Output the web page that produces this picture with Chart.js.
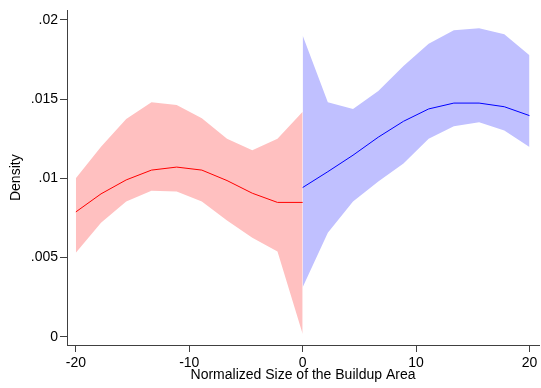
<!DOCTYPE html>
<html>
<head>
<meta charset="utf-8">
<script src="https://cdn.jsdelivr.net/npm/chart.js@4/dist/chart.umd.min.js"></script>
<style>
  body { margin: 0; background: #fff; }
  #wrap { width: 541px; height: 388px; }
</style>
</head>
<body>
<div id="wrap"><canvas id="densityChart" width="541" height="388"></canvas></div>
<script>
// x positions of the estimates (left and right of the cutoff)
const xLeft = [-20, -17.78, -15.56, -13.33, -11.11, -8.89, -6.67, -4.44, -2.22, 0];
const xRight = [0, 2.22, 4.44, 6.67, 8.89, 11.11, 13.33, 15.56, 17.78, 20];

// left side (red): fitted density and confidence band
const redMid = [0.00788, 0.00902, 0.0099, 0.01052, 0.01071, 0.01052, 0.00986, 0.00906, 0.00848, 0.00848];
const redHi = [0.0100, 0.0120, 0.01375, 0.0148, 0.01463, 0.0138, 0.0125, 0.01177, 0.0125, 0.0142];
const redLo = [0.00531, 0.00719, 0.00854, 0.00921, 0.00917, 0.00854, 0.00734, 0.00625, 0.00538, 0.00017];

// right side (blue)
const blueMid = [0.00942, 0.01042, 0.01146, 0.0126, 0.0136, 0.01438, 0.01475, 0.01475, 0.01452, 0.01396];
const blueHi = [0.01902, 0.0148, 0.01438, 0.01552, 0.01709, 0.0185, 0.01934, 0.01948, 0.0191, 0.01777];
const blueLo = [0.00313, 0.00656, 0.00854, 0.0098, 0.01094, 0.0125, 0.01329, 0.01354, 0.01302, 0.01198];

const xTicks = [-20, -10, 0, 10, 20];
const yTicks = [0, 0.005, 0.01, 0.015, 0.02];

const fontFam = '"Liberation Sans", Arial, Helvetica, sans-serif';
const axisCol = '#404040';

function pts(xs, ys) {
  return xs.map((x, i) => ({ x: x, y: ys[i] }));
}

function fmtY(v) {
  if (Math.abs(v) < 1e-9) return '0';
  return String(+v.toFixed(3)).replace(/^0\./, '.');
}

const ctx = document.getElementById('densityChart').getContext('2d');
new Chart(ctx, {
  type: 'line',
  data: {
    datasets: [
      { data: pts(xLeft, redMid), borderColor: '#ff0000', borderWidth: 1, fill: false, order: 0 },
      { data: pts(xRight, blueMid), borderColor: '#0000ff', borderWidth: 1, fill: false, order: 0 },
      { data: pts(xLeft, redHi), borderWidth: 0, borderColor: 'rgba(0,0,0,0)', backgroundColor: 'rgb(255,192,192)', fill: '+1', order: 2 },
      { data: pts(xLeft, redLo), borderWidth: 0, borderColor: 'rgba(0,0,0,0)', fill: false, order: 2 },
      { data: pts(xRight, blueHi), borderWidth: 0, borderColor: 'rgba(0,0,0,0)', backgroundColor: 'rgb(192,192,255)', fill: '+1', order: 1 },
      { data: pts(xRight, blueLo), borderWidth: 0, borderColor: 'rgba(0,0,0,0)', fill: false, order: 1 }
    ]
  },
  options: {
    responsive: false,
    animation: false,
    elements: { point: { radius: 0 }, line: { tension: 0 } },
    layout: { padding: { top: 7, right: 2, left: 0, bottom: 0 } },
    plugins: { legend: { display: false }, tooltip: { enabled: false } },
    scales: {
      x: {
        type: 'linear',
        min: -20.78,
        max: 20.84,
        afterBuildTicks: (s) => { s.ticks = xTicks.map(v => ({ value: v })); },
        afterFit: (s) => { s.height = 43; },
        grid: { drawOnChartArea: false, drawTicks: true, tickLength: 7, color: axisCol },
        border: { display: true, color: axisCol, width: 1 },
        ticks: { padding: 3, color: '#000', font: { family: fontFam, size: 14 }, maxRotation: 0 },
        title: { display: true, text: 'Normalized Size of the Buildup Area', color: '#000',
                 font: { family: fontFam, size: 14 }, padding: { top: 0, bottom: 4 } }
      },
      y: {
        type: 'linear',
        min: -0.00052,
        max: 0.0206,
        afterBuildTicks: (s) => { s.ticks = yTicks.map(v => ({ value: v })); },
        afterFit: (s) => { s.width = 67; },
        grid: { drawOnChartArea: false, drawTicks: true, tickLength: 7, color: axisCol },
        border: { display: true, color: axisCol, width: 1 },
        ticks: { padding: 2, color: '#000', font: { family: fontFam, size: 14 }, callback: (v) => fmtY(v) },
        title: { display: true, text: 'Density', color: '#000',
                 font: { family: fontFam, size: 14 }, padding: { top: 8, bottom: 0 } }
      }
    }
  }
});
</script>
</body>
</html>
